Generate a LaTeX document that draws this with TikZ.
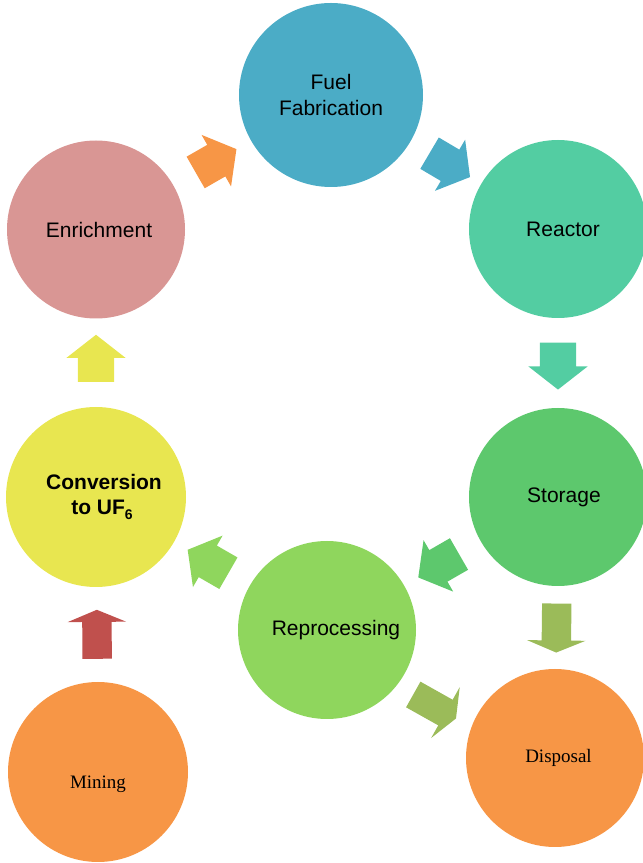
\documentclass[tikz,border=0pt]{standalone}
\usepackage{fontspec}
\usepackage{tikz}
\usetikzlibrary{positioning,shapes.arrows,calc}
\newfontfamily\stagesans{Liberation Sans}
\newfontfamily\stageserif{Liberation Serif}
\definecolor{fuelblue}{HTML}{4BACC6}
\definecolor{reactorteal}{HTML}{53CDA2}
\definecolor{storagegreen}{HTML}{5DC86D}
\definecolor{reprogreen}{HTML}{8FD65D}
\definecolor{wasteorange}{HTML}{F79646}
\definecolor{convyellow}{HTML}{E8E650}
\definecolor{enrichpink}{HTML}{D99694}
\definecolor{olivegreen}{HTML}{9BBB59}
\definecolor{minered}{HTML}{C0504D}
\tikzset{
  stage/.style={
    circle, draw=none, minimum size=178pt, inner sep=0pt,
    align=center, font=\stagesans\fontsize{21}{25}\selectfont
  },
  serifstage/.style={
    stage, font=\stageserif\fontsize{19}{23}\selectfont
  },
  flowarrow/.style={
    single arrow, draw=none, inner xsep=0pt, inner ysep=18pt,
    minimum height=47pt,
    single arrow head extend=11.5pt, single arrow tip angle=104,
    sloped, allow upside down, pos=0.47
  },
  stubarrow/.style={
    flowarrow, minimum height=49pt, inner ysep=14.5pt,
    single arrow head extend=14.5pt, single arrow tip angle=135
  }
}
\begin{document}
\begin{tikzpicture}[x=1pt,y=1pt]
  \useasboundingbox (0,0) rectangle (643,863);

  \node[stage, fill=fuelblue, minimum size=184pt] (fuel) at (331,768) {Fuel\\Fabrication};
  \node[stage, fill=reactorteal] (reactor) at (558,634) {\hspace{10pt}Reactor};
  \node[stage, fill=storagegreen] (storage) at (558,366) {\hspace{12pt}Storage};
  \node[serifstage, fill=wasteorange] (disposal) at (555,105) {\hspace{7pt}Disposal};
  \node[stage, fill=reprogreen] (repro) at (327,233) {\hspace{18pt}Reprocessing};
  \node[serifstage, fill=wasteorange, minimum size=180pt] (mining) at (98,91) {\raisebox{-17pt}[0pt][0pt]{Mining}};
  \node[stage, fill=convyellow, minimum size=180pt, font=\stagesans\bfseries\fontsize{21}{25}\selectfont] (conv) at (96,366)
       {\hspace{16pt}Conversion\\\hspace{12pt}to UF\raisebox{-5pt}{\fontsize{14}{14}\selectfont 6}};
  \node[stage, fill=enrichpink] (enrich) at (96,633.5) {\hspace{6pt}Enrichment};

  % cycle arrows
  \path (enrich) -- node[flowarrow, fill=wasteorange] (a1) {} (fuel);
  \path (fuel) -- node[flowarrow, fill=fuelblue] (a2) {} (reactor);
  \path (reactor) -- node[flowarrow, fill=reactorteal, pos=0.455] (a3) {} (storage);
  \path (storage) -- node[flowarrow, fill=storagegreen] (a4) {} (repro);
  \path (repro) -- node[flowarrow, fill=reprogreen] (a5) {} (conv);
  \path (conv) -- node[flowarrow, fill=convyellow] (a6) {} (enrich);
  \path (mining) -- node[stubarrow, fill=minered] (a7) {} (conv);
  \path (storage) -- node[stubarrow, fill=olivegreen] (a8) {} (disposal);
  \path (repro) -- node[stubarrow, fill=olivegreen, yshift=-14pt] (a9) {} (disposal);
\end{tikzpicture}
\end{document}
